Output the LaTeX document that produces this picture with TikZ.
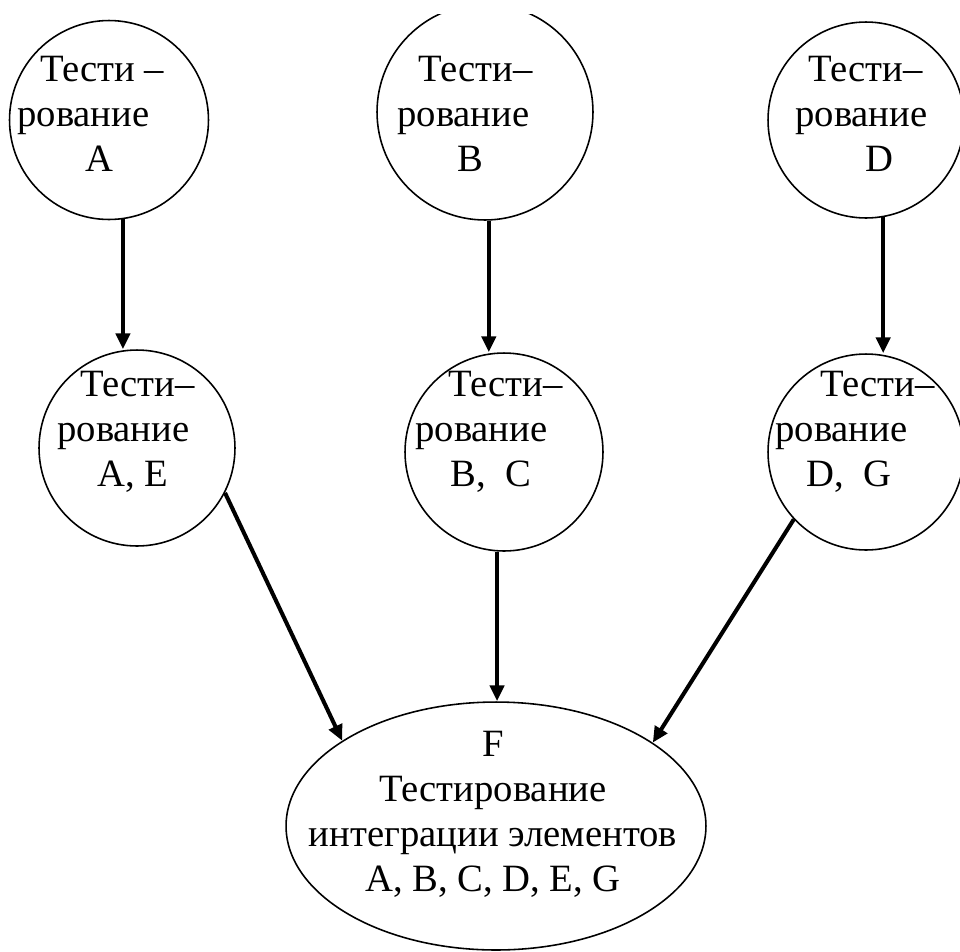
\documentclass[tikz,border=0pt]{standalone}
\usepackage{fontspec}
\setmainfont{Liberation Serif}
\usetikzlibrary{arrows.meta, shapes.geometric}
\tikzset{
	circ/.style = {draw, circle, line width = .9pt, inner sep = 0pt},
	oval/.style = {draw, ellipse, line width = .9pt, inner sep = 0pt, minimum width = 8.4cm, minimum height = 4.96cm},
	txt/.style = {font = \fontsize{22}{25.5}\selectfont, align = left, inner sep = 0pt, anchor = north west},
	arr/.style = {line width = 2.3pt, arrows = {-Triangle[length = 9pt, width = 8pt]}}
}

\begin{document}
\begin{tikzpicture}[x = .02cm, y = -.02cm]
		\useasboundingbox (0, 0) rectangle (960, 951);
		% upper row
		\node[circ, minimum size = 3.98cm] (tA) at (109, 120) {};
		\begin{scope}
			\clip (0, 14) rectangle (960, 951);
			\node[circ, minimum size = 4.32cm] (tB) at (485, 112) {};
		\end{scope}
		\node[circ, minimum size = 3.92cm] (tD) at (866, 120) {};
		\node[txt] (tAtext) at (17, 56) {\hspace*{13pt}Тести –\\рование\\\hspace*{39pt}A};
		\node[txt] (tBtext) at (397, 56) {\hspace*{12pt}Тести–\\рование\\\hspace*{34pt}B};
		\node[txt] (tDtext) at (795, 56) {\hspace*{7.4pt}Тести–\\рование\\\hspace*{40pt}D};
		% middle row
		\node[circ, minimum size = 3.92cm] (mAE) at (137, 448) {};
		\node[circ, minimum size = 3.96cm] (mBC) at (504, 452) {};
		\node[circ, minimum size = 3.92cm] (mDG) at (866, 452) {};
		\node[txt] (mAEtext) at (57, 371) {\hspace*{13pt}Тести–\\рование\\\hspace*{22.7pt}A, E};
		\node[txt] (mBCtext) at (415, 371) {\hspace*{18.7pt}Тести–\\рование\\\hspace*{20pt}B,\ \ C};
		\node[txt] (mDGtext) at (775, 371) {\hspace*{25.5pt}Тести–\\рование\\\hspace*{18pt}D,\ \ G};
		% integration
		\node[oval] (F) at (496, 826) {};
		\node[txt, align = center, anchor = north] (Ftext) at (493, 731) {F\\Тестирование\\интеграции элементов\\A, B, C, D, E, G};
		% arrows
		\draw[arr] (tA.-82) -- (tA.-82 |- mAE.north);
		\draw[arr] (tB.-88) -- (tB.-88 |- mBC.north);
		\draw[arr] (tD.-80) -- (tD.-80 |- mDG.north);
		\draw[arr] (mAE.-27) -- (F.151);
		\draw[arr] (mBC.-94) -- (mBC.-94 |- F.north);
		\draw[arr] (mDG.-137) -- (F.28);
	\end{tikzpicture}
\end{document}
